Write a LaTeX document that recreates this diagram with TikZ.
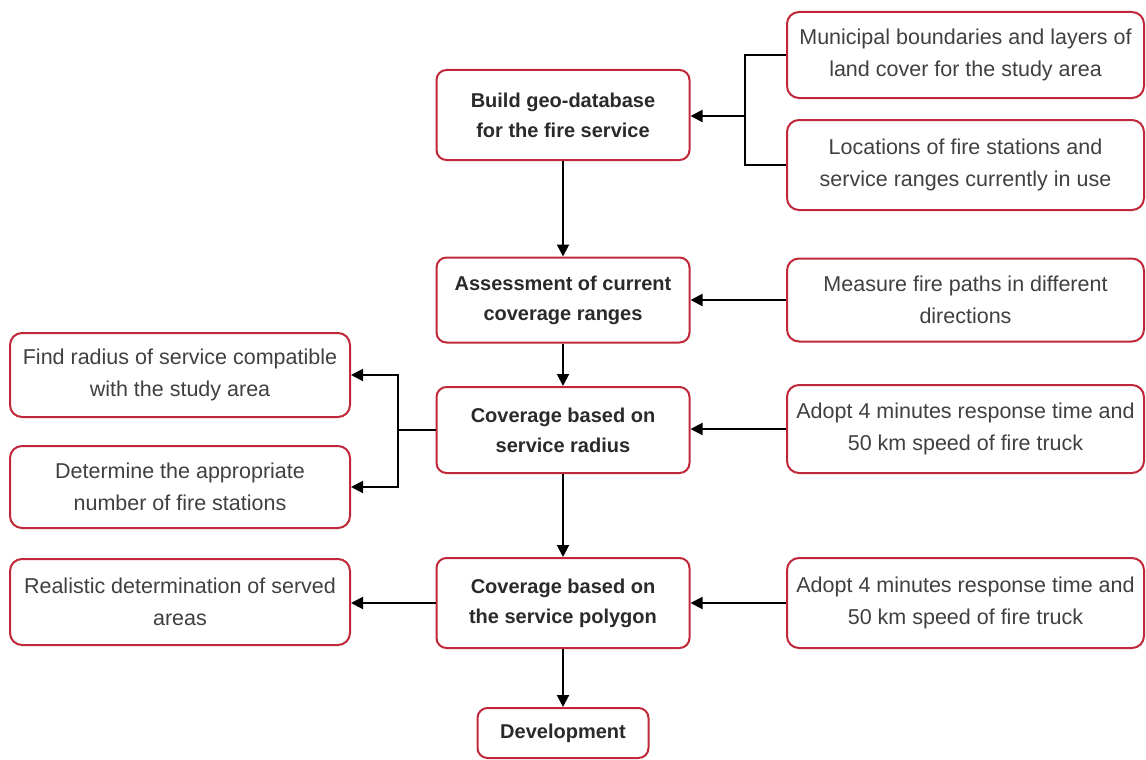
\documentclass[tikz,border=0pt]{standalone}
\usepackage{fontspec}
\setmainfont{Liberation Sans}
\usetikzlibrary{arrows.meta}
\definecolor{boxred}{HTML}{C0283A}
\definecolor{txtmain}{HTML}{2A2A2A}
\definecolor{txtside}{HTML}{404040}
\tikzset{
  x=1pt, y=-1pt,
  mainbox/.style={draw=boxred, line width=2pt, rounded corners=10pt, fill=white,
    align=center, text=txtmain, font=\fontsize{20}{30}\selectfont\bfseries,
    minimum width=253pt, inner sep=0pt},
  sidebox/.style={draw=boxred, line width=2pt, rounded corners=12pt, fill=white,
    align=center, text=txtside, font=\fontsize{21.5}{32}\selectfont,
    inner sep=0pt},
  conn/.style={draw=black, line width=2pt},
  arr/.style={conn, -{Triangle[length=12pt,width=12pt]}}
}
\begin{document}
\begin{tikzpicture}
\useasboundingbox[fill=white] (0,0) rectangle (1146,760);
% central column
\node[mainbox, minimum height=90pt] (b1) at (563,115) {Build geo-database\\for the fire service};
\node[mainbox, minimum height=85pt] (b2) at (563,300) {Assessment of current\\coverage ranges};
\node[mainbox, minimum height=86pt] (b3) at (563,430) {Coverage based on\\service radius};
\node[mainbox, minimum height=90pt] (b4) at (563,603) {Coverage based on\\the service polygon};
\node[mainbox, minimum width=171pt, minimum height=50pt] (dev) at (563,733) {Development};
% right column
\node[sidebox, minimum width=357pt, minimum height=86pt] (r1) at (965.5,55) {Municipal boundaries and layers of\\land cover for the study area};
\node[sidebox, minimum width=357pt, minimum height=90pt] (r2) at (965.5,165) {Locations of fire stations and\\service ranges currently in use};
\node[sidebox, minimum width=357pt, minimum height=83pt] (r3) at (965.5,300) {Measure fire paths in different\\directions};
\node[sidebox, minimum width=357pt, minimum height=88pt] (r4) at (965.5,429) {Adopt 4 minutes response time and\\50 km speed of fire truck};
\node[sidebox, minimum width=357pt, minimum height=90pt] (r5) at (965.5,603) {Adopt 4 minutes response time and\\50 km speed of fire truck};
% left column
\node[sidebox, minimum width=340pt, minimum height=84pt] (l1) at (180,375) {Find radius of service compatible\\with the study area};
\node[sidebox, minimum width=340pt, minimum height=82pt] (l2) at (180,487) {Determine the appropriate\\number of fire stations};
\node[sidebox, minimum width=340pt, minimum height=86pt] (l3) at (180,602) {Realistic determination of served\\areas};
% junctions
\coordinate (jr) at (745,116);
\coordinate (jl) at (398,430);
% connectors
\draw[conn] (r1.west) -| (jr);
\draw[conn] (r2.west) -| (jr);
\draw[arr] (jr) -- (b1.east |- jr);
\draw[arr] (b1) -- (b2);
\draw[arr] (r3.west) -- (b2.east);
\draw[arr] (b2) -- (b3);
\draw[arr] (r4.west) -- (b3.east |- r4.west);
\draw[conn] (b3.west) -- (jl);
\draw[arr] (jl) |- (l1.east);
\draw[arr] (jl) |- (l2.east);
\draw[arr] (b3) -- (b4);
\draw[arr] (r5.west) -- (b4.east);
\draw[arr] (b4.west) -- (l3.east |- b4.west);
\draw[arr] (b4) -- (dev);
\end{tikzpicture}
\end{document}
